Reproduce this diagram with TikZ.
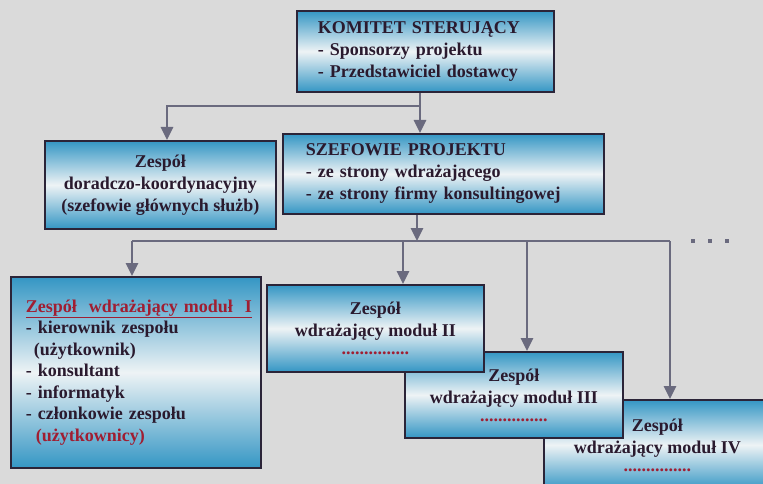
\documentclass[tikz,border=0pt]{standalone}
\usepackage{fontspec}
\setmainfont{Liberation Serif}
\usetikzlibrary{arrows.meta}
\definecolor{bg}{HTML}{DADADA}
\definecolor{boxblue}{HTML}{3496C4}
\definecolor{boxmid}{HTML}{EEF3F5}
\definecolor{edge}{HTML}{2B2438}
\definecolor{ink}{HTML}{2A1A2E}
\definecolor{redink}{HTML}{A01E32}
\definecolor{conncol}{HTML}{6A6A7E}
\begin{document}
\begin{tikzpicture}[x=1pt,y=-1pt,
  box/.style={draw=edge, line width=1.8pt, top color=boxblue, bottom color=boxblue,
    middle color=boxmid, anchor=north west, inner sep=0pt, text=ink,
    font=\bfseries\fontsize{18}{22}\selectfont},
  conn/.style={draw=conncol, line width=2.8pt},
  arr/.style={conn, -{Triangle[width=12pt,length=13pt]}},
  dotline/.style={}
]
\useasboundingbox (0,0) rectangle (763,484);
\fill[bg] (0,0) rectangle (763,484);
\clip (0,0) rectangle (763,484);

% top level
\node[box, minimum width=257pt, minimum height=81pt, text width=215pt, align=left] (k) at (296,10)
  {KOMITET STERUJĄCY\\- Sponsorzy projektu\\- Przedstawiciel dostawcy};
\node[box, minimum width=231pt, minimum height=88pt, align=center] (d) at (44,140)
  {Zespół\\doradczo-koordynacyjny\\(szefowie głównych służb)};
\node[box, minimum width=321pt, minimum height=80pt, text width=275pt, align=left] (s) at (282,133)
  {SZEFOWIE PROJEKTU\\- ze strony wdrażającego\\- ze strony firmy konsultingowej};

% module boxes (back to front)
\node[box, minimum width=227pt, minimum height=90pt, align=center] (m4) at (543,399)
  {Zespół\\wdrażający moduł IV\\[-4pt]\textcolor{redink}{...............}};
\node[box, minimum width=218pt, minimum height=86pt, align=center] (m3) at (404,351)
  {Zespół\\wdrażający moduł III\\[-4pt]\textcolor{redink}{...............}};
\node[box, minimum width=217pt, minimum height=87pt, align=center] (m2) at (266,284)
  {Zespół\\wdrażający moduł II\\[-4pt]\textcolor{redink}{...............}};
\node[box, minimum width=250pt, minimum height=191pt, text width=220pt, align=left,
  font=\bfseries\fontsize{18}{21.5}\selectfont] (m1) at (10,276)
  {\textcolor{redink}{\underline{Zespół\ \ wdrażający moduł\ \ I}}\\
   - kierownik zespołu\\
   \hspace*{8pt}(użytkownik)\\
   - konsultant\\
   - informatyk\\
   - członkowie zespołu\\
   \hspace*{10pt}\textcolor{redink}{(użytkownicy)}};

% connectors, upper part
\coordinate (j1) at (420,106);
\coordinate (jd) at (167,106);
\draw[conn] (k.south -| j1) -- (j1);
\draw[arr] (j1) -- (jd) -- (jd |- d.north);
\draw[arr] (j1) -- (j1 |- s.north);

% connectors, lower part
\coordinate (j2) at (417,241);
\coordinate (h1) at (132,241);
\coordinate (h2) at (403,241);
\coordinate (h3) at (527,241);
\coordinate (h4) at (670,241);
\draw[conn] (h1) -- (h4);
\draw[arr] (s.south -| j2) -- (j2);
\draw[arr] (h1) -- (h1 |- m1.north);
\draw[arr] (h2) -- (h2 |- m2.north);
\draw[arr] (h3) -- (h3 |- m3.north);
\draw[arr] (h4) -- (h4 |- m4.north);

% continuation dots
\foreach \x in {693,710,727} \fill[conncol] (\x-2.2,239) rectangle (\x+2.2,243.4);
\end{tikzpicture}
\end{document}
